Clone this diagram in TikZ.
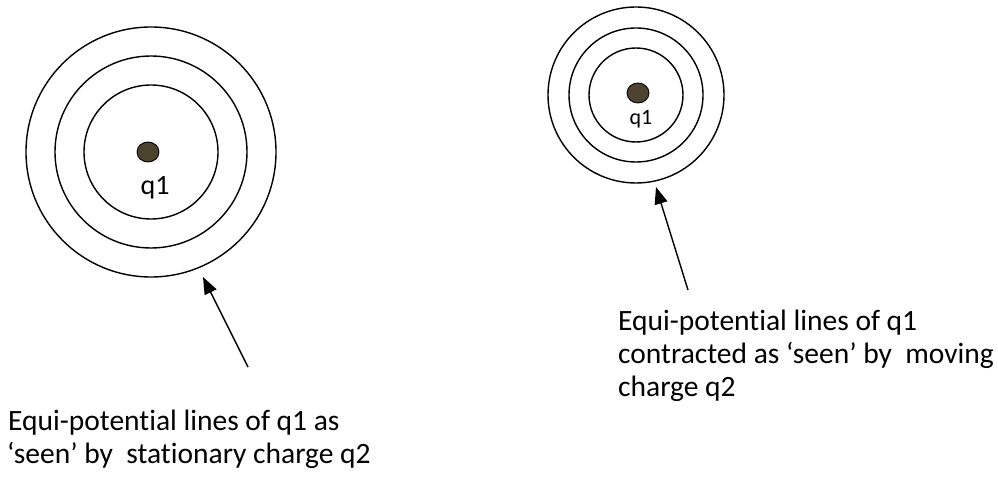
\documentclass[tikz,border=0pt]{standalone}
\usepackage{fontspec}
\setmainfont{Carlito}[Ligatures=CommonOff]
\usetikzlibrary{arrows.meta}
\definecolor{dotcol}{RGB}{76,68,46}
\tikzset{
  eqline/.style={draw=black, line width=1.4pt},
  charge/.style={draw=black, fill=dotcol, line width=0.9pt},
  pointer/.style={draw=black, line width=1.4pt, -{Triangle[length=17pt,width=13pt]}},
  caption/.style={anchor=base west, inner sep=0pt, font=\fontsize{29.5}{33}\selectfont},
  qlab/.style={inner sep=0pt, anchor=base},
}
\begin{document}
\begin{tikzpicture}[x=1pt,y=-1pt]
\useasboundingbox (0,0) rectangle (998,478);
% left charge
\coordinate (Lc) at (151,152);
\draw[eqline] (Lc) circle[radius=67];
\draw[eqline] (Lc) circle[radius=96];
\draw[eqline] (Lc) circle[radius=125];
\path[charge] (148,152) ellipse[x radius=11, y radius=10];
\node[qlab, font=\fontsize{28}{32}\selectfont] (Lq) at (155,195) {q1};
% right charge
\coordinate (Rc) at (636,95);
\draw[eqline] (Rc) circle[radius=47];
\draw[eqline] (Rc) circle[radius=67];
\draw[eqline] (Rc) circle[radius=88];
\path[charge] (638,93) ellipse[x radius=11, y radius=10];
\node[qlab, font=\fontsize{22}{26}\selectfont] (Rq) at (641,125) {q1};
% arrows
\coordinate (Ltail) at (248,367);
\coordinate (Ltip) at (203,277);
\draw[pointer] (Ltail) -- (Ltip);
\coordinate (Rtail) at (688,290);
\coordinate (Rtip) at (656,187);
\draw[pointer] (Rtail) -- (Rtip);
% captions
\node[caption] (L1) at (8,430) {Equi-potential lines of q1 as};
\node[caption] (L2) at (7,463) {‘seen’ by\ \ stationary charge q2};
\node[caption] (R1) at (618,330) {Equi-potential lines of q1};
\node[caption] (R2) at (618,363) {contracted as ‘seen’ by\ \ moving};
\node[caption] (R3) at (618,396) {charge q2};
\end{tikzpicture}
\end{document}
